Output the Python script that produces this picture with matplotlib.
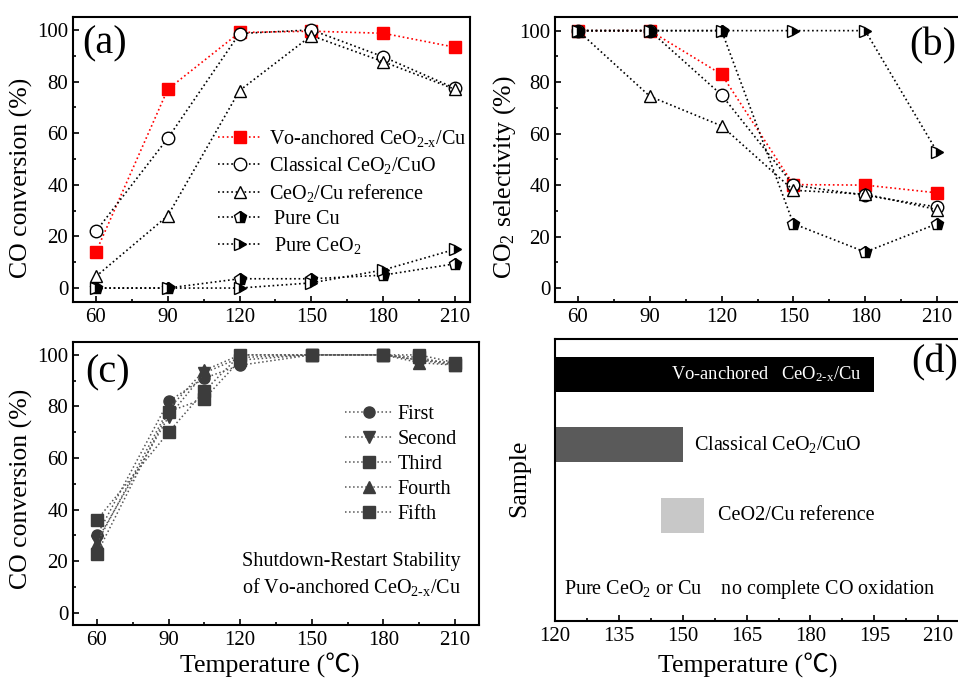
import matplotlib
matplotlib.use("Agg")
import matplotlib.pyplot as plt
from matplotlib.ticker import MultipleLocator

plt.rcParams['font.family'] = ['Liberation Serif', 'Noto Sans CJK SC']
plt.rcParams['mathtext.fontset'] = 'custom'
plt.rcParams['mathtext.rm'] = 'Liberation Serif'
plt.rcParams['mathtext.it'] = 'Liberation Serif:italic'
plt.rcParams['mathtext.bf'] = 'Liberation Serif:bold'

# ---------------- data ----------------
temps = [60, 90, 120, 150, 180, 210]

# (a) CO conversion (%)
conv_vo = [14, 77, 99, 99.5, 98.7, 93.3]
conv_classical = [22, 58, 98.6, 100, 89.6, 77.4]
conv_reference = [4.5, 28, 76.5, 97.8, 87.7, 77]
conv_cu = [0, 0, 3.6, 3.6, 5, 9.4]
conv_ceo2 = [0, 0, 0, 2, 7, 15]

# (b) CO2 selectivity (%)
sel_vo = [100, 100, 83, 40.2, 40, 37]
sel_classical = [100, 100, 75, 40, 36, 31.5]
sel_reference = [100, 74.5, 63, 38, 36.5, 30.5]
sel_cu = [100, 100, 100, 25, 14, 25]
sel_ceo2 = [100, 100, 100, 100, 100, 53]

# (c) shutdown-restart cycles
cycle_temps = [60, 90, 105, 120, 150, 180, 195, 210]
cycle_names = ['First', 'Second', 'Third', 'Fourth', 'Fifth']
cycle_first = [30, 82, 91, 96, 100, 100, 98, 97]
cycle_second = [28, 76, 93, 99, 100, 100, 98, 96]
cycle_third = [36, 70, 86, 100, 100, 100, 100, 97]
cycle_fourth = [27, 79, 94, 100, 100, 100, 97, 96]
cycle_fifth = [23, 78, 83, 98, 100, 100, 99, 96]

# (d) temperature window of complete CO oxidation
d_positions = [3, 2, 1]
d_start = [120, 120, 145]
d_end = [195, 150, 155]
d_colors = ['#000000', '#5a5a5a', '#c8c8c8']

W, H = 958, 681
fig = plt.figure(figsize=(W / 100, H / 100), dpi=100)

TICK_FS = 15
LABEL_FS = 18.5
TEXT_FS = 14.5
PANEL_FS = 29


def box(left, top, right, bottom):
    return [left / W, 1 - bottom / H, (right - left) / W, (bottom - top) / H]


def style_axes(ax, minor_x, minor_y=None):
    for s in ax.spines.values():
        s.set_linewidth(1.5)
    ax.tick_params(which='both', direction='in', top=False, right=False,
                   labelsize=TICK_FS, width=1.2)
    ax.tick_params(which='major', length=4)
    ax.tick_params(which='minor', length=2.5)
    ax.tick_params(axis='x', which='major', pad=4.5)
    ax.tick_params(axis='y', which='major', pad=3.5)
    ax.xaxis.set_minor_locator(MultipleLocator(minor_x))
    if minor_y:
        ax.yaxis.set_minor_locator(MultipleLocator(minor_y))


def temperature_label(ax, x, y):
    ax.set_xlabel('Temperature (℃)', fontsize=LABEL_FS)
    ax.xaxis.label.set_verticalalignment('baseline')
    ax.xaxis.set_label_coords(x, y)


lw = 1.2
ms = 9
series_a = [
    (conv_vo, sel_vo, dict(color='red', marker='s', mfc='red', mec='red'),
     r'Vo-anchored CeO$_{\text{2-x}}$/Cu'),
    (conv_classical, sel_classical, dict(color='black', marker='o', mfc='white', mec='black'),
     r'Classical CeO$_2$/CuO'),
    (conv_reference, sel_reference, dict(color='black', marker='^', mfc='white', mec='black'),
     r'CeO$_2$/Cu reference'),
    (conv_cu, sel_cu, dict(color='black', marker='p', fillstyle='right', mfc='black',
                           mfcalt='white', mec='black'),
     ' Pure Cu'),
    (conv_ceo2, sel_ceo2, dict(color='black', marker='>', fillstyle='right', mfc='black',
                               mfcalt='white', mec='black'),
     r' Pure CeO$_2$'),
]

# ---------------- (a) ----------------
ax_a = fig.add_axes(box(73, 17, 470, 302))
for conv, _, kw, label in series_a:
    ax_a.plot(temps, conv, linestyle=':', lw=lw, ms=ms, mew=1, label=label, **kw)
ax_a.set_xlim(50.4, 216.3)
ax_a.set_ylim(-5.4, 105)
ax_a.set_xticks(temps)
ax_a.set_yticks([0, 20, 40, 60, 80, 100])
style_axes(ax_a, 15, 10)
ax_a.set_ylabel('CO conversion (%)', fontsize=LABEL_FS)
ax_a.yaxis.set_label_coords(-0.102, 0.435)
ax_a.legend(loc='upper left', bbox_to_anchor=(0.365, 0.612), frameon=False,
            fontsize=TEXT_FS, borderpad=0, borderaxespad=0, handlelength=2.2,
            handletextpad=0.35, labelspacing=0.3, numpoints=1)
ax_a.text(0.023, 0.905, '(a)', transform=ax_a.transAxes, fontsize=PANEL_FS,
          va='center', ha='left')

# ---------------- (b) ----------------
ax_b = fig.add_axes(box(555, 17, 961, 302))
for _, sel, kw, label in series_a:
    ax_b.plot(temps, sel, linestyle=':', lw=lw, ms=ms, mew=1, **kw)
ax_b.set_xlim(50.4, 220)
ax_b.set_ylim(-5.4, 105.3)
ax_b.set_xticks(temps)
ax_b.set_yticks([0, 20, 40, 60, 80, 100])
style_axes(ax_b, 15, 10)
ax_b.set_ylabel(r'CO$_2$ selectivity (%)', fontsize=LABEL_FS)
ax_b.yaxis.set_label_coords(-0.091, 0.438)
ax_b.text(0.872, 0.90, '(b)', transform=ax_b.transAxes, fontsize=PANEL_FS,
          va='center', ha='left')

# ---------------- (c) ----------------
ax_c = fig.add_axes(box(73, 342, 479, 625))
cycle_values = [cycle_first, cycle_second, cycle_third, cycle_fourth, cycle_fifth]
cycle_markers = ['o', 'v', 's', '^', 's']
for vals, mk, name in zip(cycle_values, cycle_markers, cycle_names):
    ax_c.plot(cycle_temps, vals, linestyle=':', color='#555555', lw=1.1,
              marker=mk, ms=8, mfc='#3c3c3c', mec='#3c3c3c', label=name)
ax_c.set_xlim(50, 220)
ax_c.set_ylim(-4.7, 105)
ax_c.set_xticks(temps)
ax_c.set_yticks([0, 20, 40, 60, 80, 100])
style_axes(ax_c, 15, 10)
ax_c.set_ylabel('CO conversion (%)', fontsize=LABEL_FS)
ax_c.yaxis.set_label_coords(-0.099, 0.48)
ax_c.legend(loc='upper left', bbox_to_anchor=(0.67, 0.778), frameon=False,
            fontsize=TEXT_FS, borderpad=0, borderaxespad=0, handlelength=2.4,
            handletextpad=0.2, labelspacing=0.3, numpoints=1)
ax_c.text(120.7, 19.8, 'Shutdown-Restart Stability', fontsize=TEXT_FS,
          ha='left', va='center')
ax_c.text(120.7, 10, r'of Vo-anchored CeO$_{\text{2-x}}$/Cu', fontsize=TEXT_FS,
          ha='left', va='center')
ax_c.text(0.03, 0.89, '(c)', transform=ax_c.transAxes, fontsize=PANEL_FS,
          va='center', ha='left')

# ---------------- (d) ----------------
ax_d = fig.add_axes(box(555, 339, 965, 621))
ax_d.barh(d_positions, [e - s for s, e in zip(d_start, d_end)], left=d_start,
          height=0.49, color=d_colors)
ax_d.set_xlim(120, 216.3)
ax_d.set_ylim(-0.5, 3.5)
ax_d.set_xticks([120, 135, 150, 165, 180, 195, 210])
ax_d.set_yticks([])
style_axes(ax_d, 7.5)
ax_d.set_ylabel('Sample', fontsize=LABEL_FS)
ax_d.yaxis.set_label_coords(-0.061, 0.507)
ax_d.text(169.6, 3, r'Vo-anchored   CeO$_{\text{2-x}}$/Cu', color='white',
          fontsize=13.3, ha='center', va='center')
ax_d.text(152.6, 2, r'Classical CeO$_2$/CuO', fontsize=TEXT_FS, ha='left', va='center')
ax_d.text(158.3, 1, 'CeO2/Cu reference', fontsize=TEXT_FS, ha='left', va='center')
ax_d.text(165.8, -0.06, r'Pure CeO$_2$ or Cu    no complete CO oxidation',
          fontsize=TEXT_FS, ha='center', va='center')
ax_d.text(0.869, 0.915, '(d)', transform=ax_d.transAxes, fontsize=PANEL_FS,
          va='center', ha='left')

temperature_label(ax_c, 0.485, (625 - 673) / 283)
temperature_label(ax_d, 0.471, (621 - 673) / 282)

fig.savefig('out.png', dpi=100)
